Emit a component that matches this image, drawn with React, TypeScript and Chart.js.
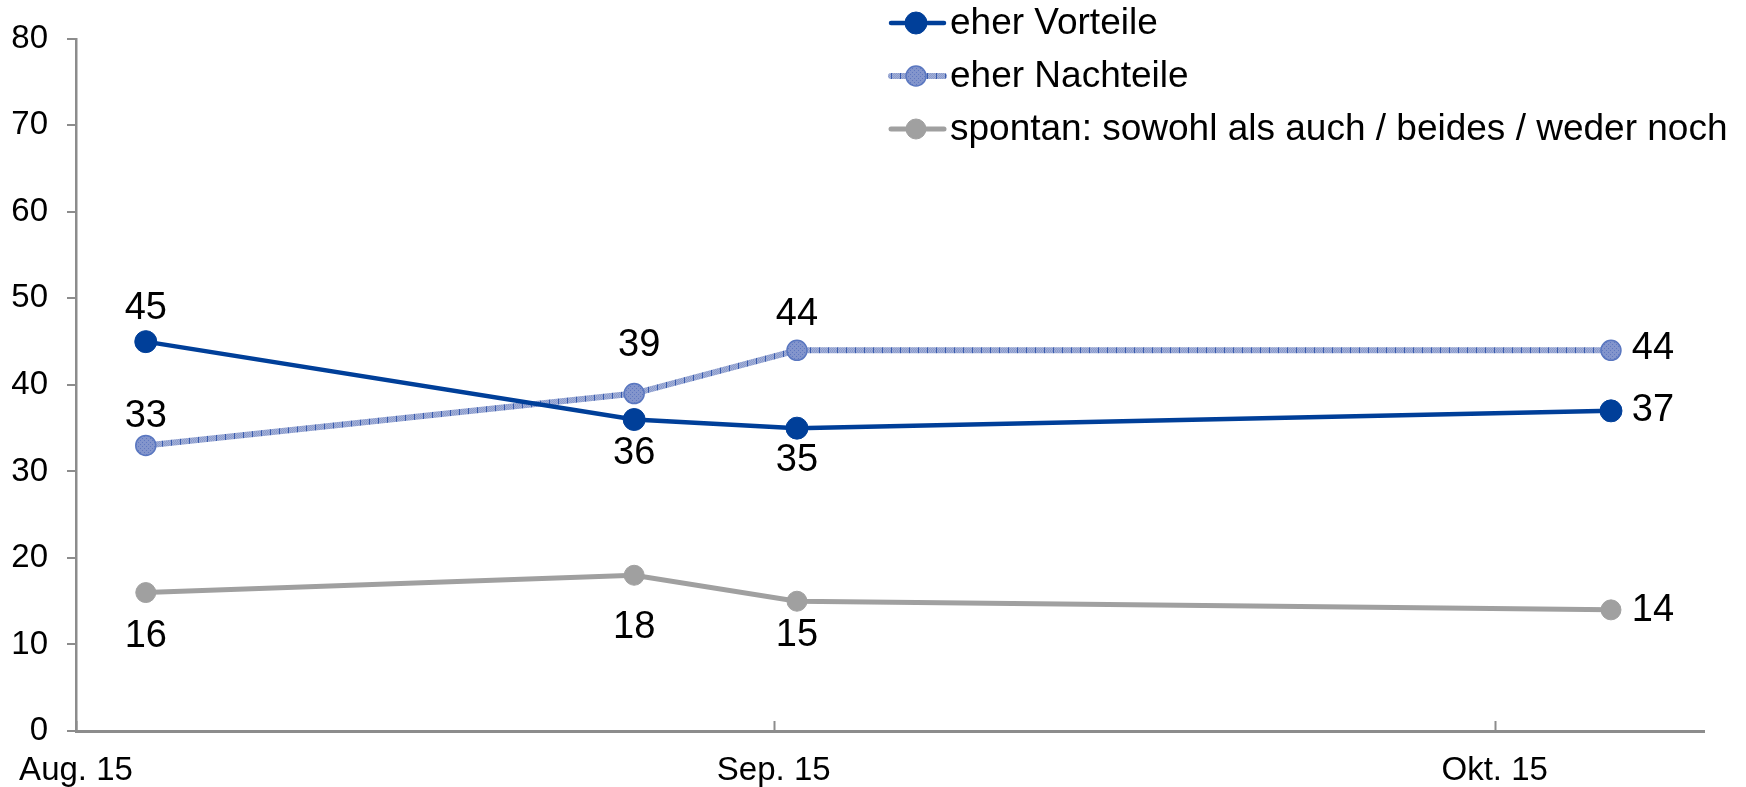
import React, { useEffect, useRef } from 'react';
import { Chart, registerables } from 'chart.js';

Chart.register(...registerables);

// ---- data ----
const seriesNames = ['eher Vorteile', 'eher Nachteile', 'spontan: sowohl als auch / beides / weder noch'];
const surveyDays = [3, 24, 31, 66]; // days from the "Aug. 15" tick
const vorteile = [45, 36, 35, 37];
const nachteile = [33, 39, 44, 44];
const spontan = [16, 18, 15, 14];
const xTickValues = [0, 30, 61];
const xTickLabels = ['Aug. 15', 'Sep. 15', 'Okt. 15'];
const xMin = 0;
const xMax = 70;
const yMin = 0;
const yMax = 80;
const yStep = 10;

// ---- styles ----
const FONT = "'Liberation Sans', Arial, sans-serif";
const AXIS_GRAY = '#8c8c8c';
const BLUE = '#003f99';
const GRAY = '#a0a0a0';
// label offsets (dx, dy) from each point, per series
const labelOffsets = [
  [[0, -33], [0, 34], [0, 32], [42, 0]],
  [[0, -29], [5, -48], [0, -36], [42, -2]],
  [[0, 44], [0, 52], [0, 34], [42, 1]],
];

function makeLinePattern(): CanvasPattern | string {
  const c = document.createElement('canvas');
  c.width = 9;
  c.height = 9;
  const g = c.getContext('2d');
  if (!g) return '#9aa9d4';
  g.fillStyle = '#a3b0d8';
  g.fillRect(0, 0, 9, 9);
  g.fillStyle = '#8a9bcc';
  for (let i = 0; i < 9; i++) for (let j = 0; j < 9; j++) if ((i + j) % 2 === 0) g.fillRect(i, j, 1, 1);
  g.fillStyle = '#3a5cae';
  g.fillRect(0, 0, 1, 9);
  const p = g.createPattern(c, 'repeat');
  return p || '#9aa9d4';
}

function makeMarkerPattern(): CanvasPattern | string {
  const c = document.createElement('canvas');
  c.width = 4;
  c.height = 4;
  const g = c.getContext('2d');
  if (!g) return '#7b8fcb';
  g.fillStyle = '#8395cc';
  g.fillRect(0, 0, 4, 4);
  g.fillStyle = '#5f78c0';
  g.fillRect(0, 0, 1, 1);
  g.fillRect(2, 2, 1, 1);
  const p = g.createPattern(c, 'repeat');
  return p || '#7b8fcb';
}

export default function App() {
  const canvasRef = useRef<HTMLCanvasElement | null>(null);

  useEffect(() => {
    document.body.style.margin = '0';
    const canvas = canvasRef.current;
    if (!canvas) return;
    const linePat = makeLinePattern();
    const markerPat = makeMarkerPattern();

    const toPoints = (vals: number[]) => vals.map((v, i) => ({ x: surveyDays[i], y: v }));

    const dataLabelPlugin = {
      id: 'dataLabels',
      afterDatasetsDraw(chart: any) {
        const ctx = chart.ctx;
        ctx.save();
        ctx.font = `38px ${FONT}`;
        ctx.fillStyle = '#000';
        ctx.textAlign = 'center';
        ctx.textBaseline = 'middle';
        chart.data.datasets.forEach((ds: any, di: number) => {
          const meta = chart.getDatasetMeta(di);
          meta.data.forEach((pt: any, pi: number) => {
            const off = labelOffsets[di][pi];
            ctx.fillText(String(ds.data[pi].y), pt.x + off[0], pt.y + off[1]);
          });
        });
        ctx.restore();
      },
    };

    const xTickPlugin = {
      id: 'xInnerTicks',
      afterDraw(chart: any) {
        const ctx = chart.ctx;
        const xs = chart.scales.x;
        const bottom = chart.chartArea.bottom;
        ctx.save();
        ctx.strokeStyle = AXIS_GRAY;
        ctx.lineWidth = 2;
        xTickValues.forEach((v) => {
          const px = Math.round(xs.getPixelForValue(v)) + 0.5;
          ctx.beginPath();
          ctx.moveTo(px, bottom);
          ctx.lineTo(px, bottom - 10);
          ctx.stroke();
        });
        ctx.restore();
      },
    };

    const legendPlugin = {
      id: 'customLegend',
      afterDraw(chart: any) {
        const ctx = chart.ctx;
        const x0 = 891;
        const x1 = 944;
        const mx = 916;
        const tx = 950;
        const ys = [23, 76, 129];
        ctx.save();
        chart.data.datasets.forEach((ds: any, i: number) => {
          const y = ys[i];
          ctx.strokeStyle = ds.borderColor;
          ctx.lineWidth = ds.borderWidth;
          ctx.lineCap = 'round';
          ctx.beginPath();
          ctx.moveTo(x0, y);
          ctx.lineTo(x1, y);
          ctx.stroke();
          ctx.beginPath();
          ctx.arc(mx, y, ds.pointRadius, 0, Math.PI * 2);
          ctx.fillStyle = ds.pointBackgroundColor;
          ctx.fill();
          ctx.lineWidth = ds.pointBorderWidth;
          ctx.strokeStyle = ds.pointBorderColor;
          ctx.stroke();
          ctx.fillStyle = '#000';
          ctx.font = `37px ${FONT}`;
          ctx.textAlign = 'left';
          ctx.textBaseline = 'middle';
          ctx.fillText(ds.label, tx, y + 1);
        });
        ctx.restore();
      },
    };

    const chart = new Chart(canvas, {
      type: 'line',
      data: {
        datasets: [
          {
            label: seriesNames[0],
            data: toPoints(vorteile),
            borderColor: BLUE,
            borderWidth: 4.5,
            pointRadius: 11,
            pointBackgroundColor: BLUE,
            pointBorderColor: BLUE,
            pointBorderWidth: 1,
            tension: 0,
          },
          {
            label: seriesNames[1],
            data: toPoints(nachteile),
            borderColor: linePat as any,
            borderWidth: 6,
            pointRadius: 10,
            pointBackgroundColor: markerPat as any,
            pointBorderColor: '#5a77c0',
            pointBorderWidth: 1.5,
            tension: 0,
          },
          {
            label: seriesNames[2],
            data: toPoints(spontan),
            borderColor: GRAY,
            borderWidth: 5,
            pointRadius: 10,
            pointBackgroundColor: GRAY,
            pointBorderColor: GRAY,
            pointBorderWidth: 1,
            tension: 0,
          },
        ],
      },
      options: {
        responsive: false,
        animation: false,
        events: [],
        layout: { padding: { left: 0, right: 42, top: 34, bottom: 0 } },
        plugins: {
          legend: { display: false },
          tooltip: { enabled: false },
          title: { display: false },
        },
        scales: {
          x: {
            type: 'linear',
            min: xMin,
            max: xMax,
            afterBuildTicks: (scale: any) => {
              scale.ticks = xTickValues.map((v) => ({ value: v }));
            },
            afterFit: (scale: any) => {
              scale.height = 56;
            },
            grid: { display: false },
            border: { display: true, color: AXIS_GRAY, width: 3 },
            ticks: {
              autoSkip: false,
              maxRotation: 0,
              padding: 12,
              color: '#000',
              font: { family: FONT, size: 33 },
              callback: (v: any) => {
                const idx = xTickValues.indexOf(Number(v));
                return idx >= 0 ? xTickLabels[idx] : '';
              },
            },
          },
          y: {
            min: yMin,
            max: yMax,
            afterFit: (scale: any) => {
              scale.width = 76;
            },
            grid: {
              display: true,
              drawOnChartArea: false,
              drawTicks: true,
              tickLength: 9,
              color: AXIS_GRAY,
              lineWidth: 2,
            },
            border: { display: true, color: AXIS_GRAY, width: 2.5 },
            ticks: {
              stepSize: yStep,
              padding: 19,
              color: '#000',
              font: { family: FONT, size: 33 },
            },
          },
        },
      },
      plugins: [dataLabelPlugin, xTickPlugin, legendPlugin],
    });

    return () => chart.destroy();
  }, []);

  return (
    <div style={{ width: 1746, height: 787, background: '#fff' }}>
      <canvas ref={canvasRef} width={1746} height={787} style={{ width: 1746, height: 787, display: 'block' }} />
    </div>
  );
}
